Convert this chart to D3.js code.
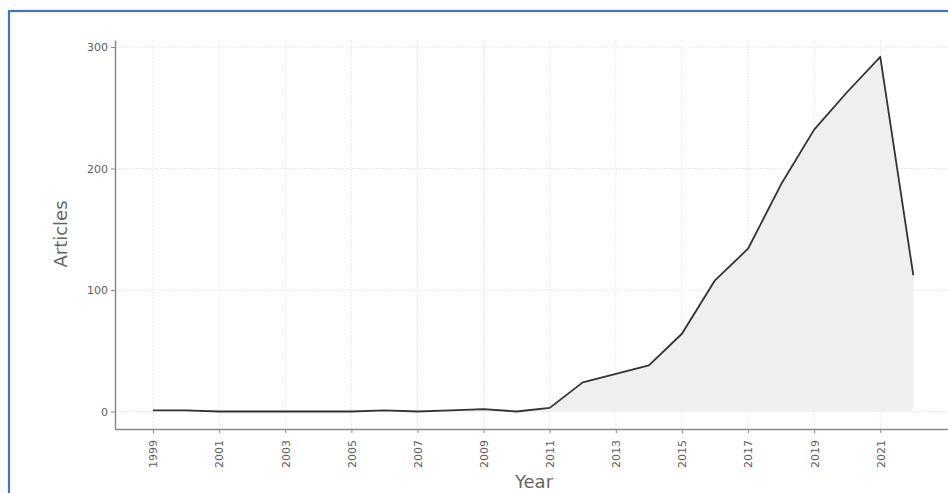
<!DOCTYPE html>
<html><head><meta charset="utf-8">
<script src="https://cdn.jsdelivr.net/npm/d3@7"></script>
<style>body{margin:0;background:#fff}svg{display:block}</style>
</head><body>
<svg id="c" width="948" height="493"></svg>
<script>
const years = [1999,2000,2001,2002,2003,2004,2005,2006,2007,2008,2009,2010,2011,2012,2013,2014,2015,2016,2017,2018,2019,2020,2021,2022];
const articles = [1,1,0,0,0,0,0,1,0,1,2,0,3,24,31,38,64,108,134,187,232,263,292,112];
const xTicks = [1999,2001,2003,2005,2007,2009,2011,2013,2015,2017,2019,2021];
const yTicks = [0,100,200,300];

const svg = d3.select("#c");
const L = 115, R = 953, T = 40, B = 429;
const x = d3.scaleLinear().domain([1997.85, 2023.2]).range([L, R]);
const y = d3.scaleLinear().domain([-14.4, 305.8]).range([B, T]);

// border
svg.append("rect").attr("x",9).attr("y",11).attr("width",960).attr("height",500)
  .attr("fill","none").attr("stroke","#4472c4").attr("stroke-width",2.2);

// grid
const g = svg.append("g");
g.selectAll(".vg").data(xTicks).join("line")
  .attr("x1",d=>x(d)).attr("x2",d=>x(d)).attr("y1",T).attr("y2",B)
  .attr("stroke","#e3e3e3").attr("stroke-dasharray","1.5,1.5").attr("stroke-width",1);
g.selectAll(".hg").data(yTicks).join("line")
  .attr("x1",L).attr("x2",R).attr("y1",d=>y(d)).attr("y2",d=>y(d))
  .attr("stroke","#e3e3e3").attr("stroke-dasharray","1.5,1.5").attr("stroke-width",1);

const data = years.map((d,i)=>({year:d, v:articles[i]}));
svg.append("path").datum(data)
  .attr("d", d3.area().x(d=>x(d.year)).y0(y(0)).y1(d=>y(d.v)))
  .attr("fill","#efefef");
svg.append("path").datum(data)
  .attr("d", d3.line().x(d=>x(d.year)).y(d=>y(d.v)))
  .attr("fill","none").attr("stroke","#333").attr("stroke-width",1.8).attr("stroke-linejoin","round");

// axes
const xa = svg.append("g").attr("transform",`translate(0,${B})`)
  .call(d3.axisBottom(x).tickValues(xTicks).tickFormat(d3.format("d")).tickSize(4).tickSizeOuter(0));
xa.select(".domain").attr("stroke","#8a8a8a").attr("stroke-width",1.5);
xa.selectAll(".tick line").attr("stroke","#8a8a8a");
xa.selectAll("text").attr("transform","rotate(-90)").attr("text-anchor","end")
  .attr("x",-11).attr("y",0).attr("dy","0.35em")
  .attr("font-family","DejaVu Sans").attr("font-size",11).attr("fill","#5e5e5e");

const ya = svg.append("g").attr("transform",`translate(${L},0)`)
  .call(d3.axisLeft(y).tickValues(yTicks).tickSize(4).tickSizeOuter(0));
ya.select(".domain").attr("stroke","#8a8a8a").attr("stroke-width",1.5);
ya.selectAll(".tick line").attr("stroke","#8a8a8a");
ya.selectAll("text").attr("x",-7)
  .attr("font-family","DejaVu Sans").attr("font-size",11).attr("fill","#5e5e5e");

svg.append("text").attr("x",534).attr("y",488).attr("text-anchor","middle")
  .attr("font-family","DejaVu Sans").attr("font-size",18).attr("fill","#666").text("Year");
svg.append("text").attr("transform","translate(67,234) rotate(-90)").attr("text-anchor","middle")
  .attr("font-family","DejaVu Sans").attr("font-size",18).attr("fill","#666").text("Articles");
</script>
</body></html>
